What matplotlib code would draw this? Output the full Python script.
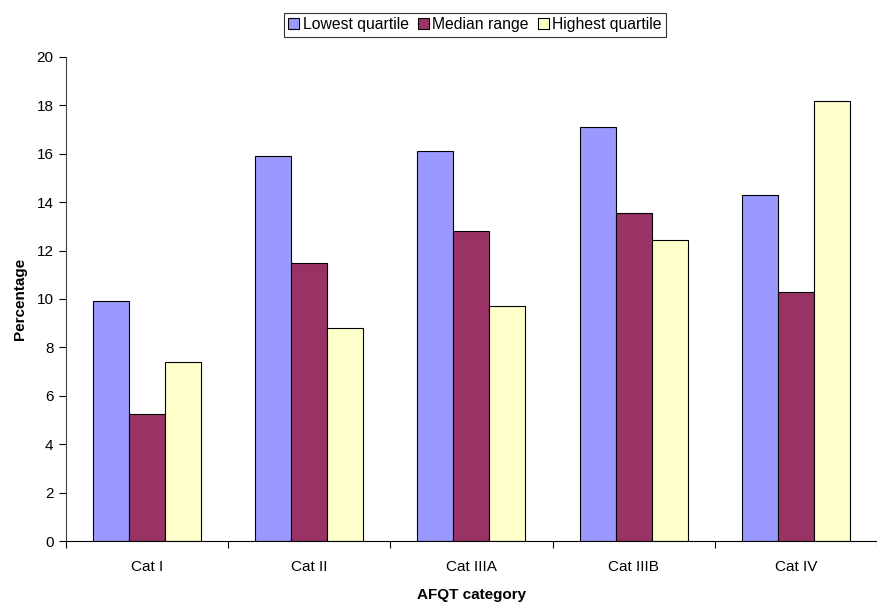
import numpy as np
import matplotlib.pyplot as plt

plt.rcParams["font.family"] = ["Liberation Sans", "DejaVu Sans"]
plt.rcParams["font.size"] = 11

categories = ["Cat I", "Cat II", "Cat IIIA", "Cat IIIB", "Cat IV"]
lowest = [9.9, 15.9, 16.1, 17.1, 14.3]
median = [5.25, 11.5, 12.8, 13.55, 10.3]
highest = [7.4, 8.8, 9.7, 12.45, 18.2]

series = [
    ("Lowest quartile", lowest, "#9999FF"),
    ("Median range", median, "#993366"),
    ("Highest quartile", highest, "#FFFFCC"),
]

fig = plt.figure(figsize=(8.78, 6.03), dpi=100)
ax = fig.add_axes([0.0752, 0.1028, 0.9236, 0.8027])

x = np.arange(len(categories))
width = 0.222
for i, (name, vals, color) in enumerate(series):
    ax.bar(x + (i - 1) * width, vals, width, color=color, edgecolor="black",
           linewidth=0.8, label=name)

ax.set_xlim(-0.5, len(categories) - 0.5)
ax.set_ylim(0, 20)
ax.set_yticks(np.arange(0, 21, 2))
# category separators as major ticks, names centred on minor ticks
ax.set_xticks(np.arange(-0.5, len(categories) + 0.5, 1))
ax.set_xticklabels([])
ax.set_xticks(x, minor=True)
ax.set_xticklabels(categories, minor=True)
ax.tick_params(axis="x", which="minor", length=0, pad=14)
ax.tick_params(axis="x", which="major", length=5, direction="out")
ax.tick_params(axis="y", length=5, direction="out", pad=4)

for side in ["top", "right"]:
    ax.spines[side].set_visible(False)
ax.spines["left"].set_color("#444444")

ax.set_xlabel("AFQT category", fontweight="bold", labelpad=10)
ax.set_ylabel("Percentage", fontweight="bold", labelpad=7)

leg = fig.legend(loc="upper center", bbox_to_anchor=(0.541, 0.992), ncol=3,
                 frameon=True, fancybox=False, edgecolor="black",
                 handlelength=0.7, handleheight=0.7, handletextpad=0.2,
                 columnspacing=0.6, borderpad=0.3, fontsize=11.3)
leg.get_frame().set_linewidth(0.8)

fig.savefig("out.png", dpi=100)
